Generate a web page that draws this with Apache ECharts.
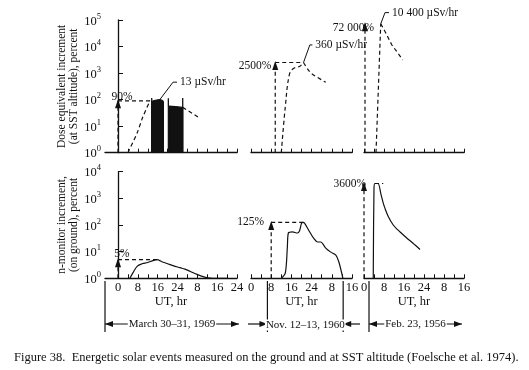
<!DOCTYPE html>
<html><head><meta charset="utf-8">
<script src="https://cdn.jsdelivr.net/npm/echarts@6/dist/echarts.min.js"></script>
<style>html,body{margin:0;padding:0;background:#fff}#c{width:529px;height:370px}</style>
</head><body><div id="c"></div>
<script>
// ---------------- data ----------------
const hourTicksMar = [0,4,8,12,16,20,24,28,32,36,40,44,48];
const hourLabelsMar = [0,8,16,24,32,40,48];
const hourTicks = [0,4,8,12,16,20,24,28,32,36,40];
const hourLabels = [0,8,16,24,32,40];
const doseDecades = [1,10,100,1000,10000,100000];
const nmDecades = [1,10,100,1000,10000];
const eventNames = ['March 30\u201331, 1969', 'Nov. 12\u201313, 1960', 'Feb. 23, 1956'];
const caption = 'Figure 38.  Energetic solar events measured on the ground and at SST altitude (Foelsche et al. 1974).';

// March 30-31, 1969 : dose at SST altitude (percent)
const marDoseArrow = [[0,1],[0,90]];
const marDoseLevel = [[0,90],[12.9,90]];
const marDoseRise = [[4,1],[7.7,5.5],[10,22],[12.9,90]];
const marDoseBlock1 = [[13.6,1],[13.6,83],[15.2,95],[16.9,101],[18.3,84],[18.3,1]];
const marDoseBlock2 = [[20.3,1],[20.3,57],[23.2,55],[26.1,51],[26.1,1]];
const marDoseEdge1 = [[13.6,1],[13.6,115]];
const marDoseEdge2 = [[20.3,57],[20.3,112]];
const marDoseEdge3 = [[26.1,1],[26.1,115]];
const marDoseTail = [[26.1,51],[33,20]];
const marDoseLeader = [[16.9,101],[22.2,455],[23.8,455]];
// March 30-31, 1969 : neutron monitor (percent)
const marNmArrow = [[0,1],[0,5]];
const marNmLevel = [[0,5],[17,5]];
const marNm = [[4.8,1],[6,1.6],[7.7,2.8],[9.7,3.5],[12,3.9],[14,4.6],[15.7,5],[17.7,4.2],[19.8,3.6],[22.2,3.0],[25,2.5],[27,2.2],[29,1.85],[31.9,1.4],[34.3,1.15],[36.3,1.05],[40,1],[44,1]];

// Nov. 12-13, 1960
const novDoseArrow = [[9.6,1],[9.6,2500]];
const novDoseLevel = [[9.6,2500],[20.8,2500]];
const novDoseRise = [[12,1],[13.6,56],[15.2,890],[16.8,1490],[19.2,1780],[20.8,2500]];
const novDoseTail = [[20.8,2500],[22.9,1230],[24.3,910],[29.6,450]];
const novDoseLeader = [[20.8,2500],[23.3,11500],[24.3,11500]];
const novNmArrow = [[8,1],[8,125]];
const novNmLevel = [[8,125],[21,125]];
const novNm = [[12,1],[13.6,1.6],[14.4,15],[14.8,50],[16.4,55],[18.4,50],[19.2,60],[20,115],[20.6,125],[21.2,118],[22.8,65],[24.8,32],[26.4,23],[27.6,23],[29.6,13.6],[31.6,9.6],[33.6,7.4],[34.8,4.1],[36.4,1]];

// Feb. 23, 1956
const febDoseArrow = [[0.4,1],[0.4,72000]];
const febDoseExtrap = [[4.8,1],[6.7,72000]];
const febDose = [[6.7,72000],[7.4,72000],[8.4,37000],[11.1,11700],[15.5,3150]];
const febDoseLeader = [[6.7,72000],[8.4,190000],[10,190000]];
const febNmArrow = [[0,1],[0,3600]];
const febNmLevel = [[4.4,3600],[7.7,3600]];
const febNm = [[3.7,1],[4,2400],[4.4,3600],[5.6,3600],[6.8,1400],[7.7,660],[8.4,420],[9.7,210],[11.7,100],[13.2,70],[15.1,48],[17.2,32],[19.5,21],[22.4,12]];

const peakLabels = ['90%','5%','2500%','125%','72 000%','3600%'];
const rateLabels = ['13 \u00b5Sv/hr','360 \u00b5Sv/hr','10 400 \u00b5Sv/hr'];

// ---------------- chart ----------------
const FONT = '"Liberation Serif","Times New Roman",serif';
const INK = '#111';
const DASH = [4,3];
const chart = echarts.init(document.getElementById('c'), null, {renderer:'canvas'});

const grids = [
  {left:105, top:20, width:132, height:132.7},
  {left:251, top:20, width:101, height:132.7},
  {left:364, top:20, width:100, height:132.7},
  {left:105, top:171.7, width:132, height:106.6},
  {left:251, top:171.7, width:101, height:106.6},
  {left:364, top:171.7, width:100, height:106.6}
].map(g => Object.assign({containLabel:false, outerBoundsMode:'none'}, g));

const xAxes = grids.map((g,i) => {
  const mar = i % 3 === 0;
  return {
    gridIndex:i, type:'value', min: mar ? -5.25 : 0, max: mar ? 48 : 40,
    axisLine:{show:true, onZero:false, lineStyle:{color:INK, width:1.3}},
    axisTick:{show:true, inside:true, length:4, lineStyle:{color:INK, width:1}, customValues: mar ? hourTicksMar : hourTicks},
    axisLabel:{show: i >= 3, customValues: mar ? hourLabelsMar : hourLabels, margin:3,
      formatter: v => String(v > 24 ? v - 24 : v), fontFamily:FONT, fontSize:12.5, color:INK},
    splitLine:{show:false},
    name: i >= 3 ? 'UT, hr' : '', nameLocation:'middle', nameGap:14,
    nameTextStyle:{fontFamily:FONT, fontSize:12.5, color:INK}
  };
});

const rich = {
  b:{fontFamily:FONT, fontSize:12.5, color:INK, lineHeight:16, verticalAlign:'bottom'},
  e:{fontFamily:FONT, fontSize:8.5, color:INK, lineHeight:16, verticalAlign:'top'}
};
const yAxes = grids.map((g,i) => {
  const top = i < 3;
  const base = {gridIndex:i, type:'log', logBase:10, min:1, max: top ? 100000 : 10000};
  if (i % 3 !== 0) return Object.assign(base, {show:false});
  return Object.assign(base, {
    axisLine:{show:true, lineStyle:{color:INK, width:1.3}},
    axisTick:{show:true, inside:true, length:5, lineStyle:{color:INK, width:1}, customValues: top ? doseDecades : nmDecades},
    axisLabel:{show:true, margin:4, customValues: top ? doseDecades : nmDecades,
      formatter: v => '{b|10}{e|' + Math.round(Math.log10(v)) + '}', rich},
    splitLine:{show:false},
    name: top ? 'Dose equivalent increment\n(at SST altitude), percent' : 'n-monitor increment,\n(on ground), percent',
    nameLocation:'middle', nameGap:19, nameRotate:90,
    nameTextStyle:{fontFamily:FONT, fontSize:11.5, lineHeight:12.5, color:INK}
  });
});

function ln(gi, data, o) {
  o = o || {};
  return {
    type:'line', xAxisIndex:gi, yAxisIndex:gi, data, symbol:'none', smooth:o.smooth || false,
    lineStyle:{color:INK, width:o.width || 1.2, type:o.dashed ? DASH : 'solid'},
    areaStyle:o.fill ? {color:INK, opacity:1, origin:'start'} : undefined,
    silent:true, animation:false, clip:false, z:o.z || 2
  };
}
function arrow(gi, data, label, lab) {
  const d = data.map((p,k) => k === data.length - 1 ? {
      value:p, symbol:'triangle', symbolSize:[6,9], symbolOffset:[0,3], itemStyle:{color:INK},
      label:Object.assign({show:true, formatter:label, fontFamily:FONT, fontSize:11.5, color:INK}, lab)
    } : {value:p, symbol:'none'});
  const s = ln(gi, d, {dashed:true});
  s.showSymbol = true; s.showAllSymbol = true;
  return s;
}
function leader(gi, data, text) {
  const s = ln(gi, data, {width:1});
  s.endLabel = {show:true, formatter:text, distance:3, fontFamily:FONT, fontSize:11.5, color:INK};
  return s;
}

const series = [
  // March dose
  arrow(0, marDoseArrow, peakLabels[0], {position:'top', distance:0, offset:[4,4]}),
  ln(0, marDoseLevel, {dashed:true}),
  ln(0, marDoseRise, {dashed:true, smooth:0.3}),
  ln(0, marDoseBlock1, {fill:true, smooth:0.2}),
  ln(0, marDoseBlock2, {fill:true}),
  ln(0, marDoseEdge1, {width:1.3}), ln(0, marDoseEdge2, {width:1.3}), ln(0, marDoseEdge3, {width:1.3}),
  ln(0, marDoseTail, {dashed:true}),
  leader(0, marDoseLeader, rateLabels[0]),
  // March neutron
  arrow(3, marNmArrow, peakLabels[1], {position:'top', distance:0, offset:[4,2]}),
  ln(3, marNmLevel, {dashed:true}),
  ln(3, marNm, {smooth:0.4}),
  // Nov dose
  arrow(1, novDoseArrow, peakLabels[2], {position:'left', distance:1, offset:[0,0]}),
  ln(1, novDoseLevel, {dashed:true}),
  ln(1, novDoseRise, {dashed:true, smooth:0.4}),
  ln(1, novDoseTail, {dashed:true, smooth:0.3}),
  leader(1, novDoseLeader, rateLabels[1]),
  // Nov neutron
  arrow(4, novNmArrow, peakLabels[3], {position:'left', distance:4, offset:[0,-3]}),
  ln(4, novNmLevel, {dashed:true}),
  ln(4, novNm, {smooth:0.3}),
  // Feb dose
  arrow(2, febDoseArrow, peakLabels[4], {position:'left', distance:-12, offset:[0,1]}),
  ln(2, febDoseExtrap, {dashed:true}),
  ln(2, febDose, {dashed:true}),
  leader(2, febDoseLeader, rateLabels[2]),
  // Feb neutron
  arrow(5, febNmArrow, peakLabels[5], {position:'left', distance:-5, offset:[0,-3]}),
  ln(5, febNmLevel, {dashed:true}),
  ln(5, febNm, {smooth:0.3})
];

chart.setOption({
  backgroundColor:'#fff', animation:false,
  grid:grids, xAxis:xAxes, yAxis:yAxes, series
});

// ---------- event brackets under the axes (positions taken from the hour axes) ----------
const px = (axis, hr) => chart.convertToPixel({xAxisIndex:axis}, hr);
const yTop = 281, yBot = 332, yArr = 324;
const xMarL = px(3,-5.25), xMarR = px(3,48.8);
const xNovL = px(4,6.5), xNovR = px(4,36.5), xNovIn = px(4,-1.2), xNovOut = px(5,-1.6);
const xFebL = px(5,2), xFebR = px(5,39.2);
const lineStyle = {stroke:INK, lineWidth:1.2};
function vline(x){ return {type:'line', shape:{x1:x,y1:yTop,x2:x,y2:yBot}, style:lineStyle, silent:true}; }
function hline(x1,x2){ return {type:'line', shape:{x1,y1:yArr,x2,y2:yArr}, style:lineStyle, silent:true}; }
function head(x, dir){ // dir: +1 points right, -1 points left
  return {type:'polygon', shape:{points:[[x,yArr],[x-dir*8,yArr-3],[x-dir*8,yArr+3]]}, style:{fill:INK}, silent:true};
}
function txt(x,y,text){ return {type:'text', x, y, silent:true, style:{text, x:0, y:0, align:'center', verticalAlign:'middle',
  font:'11px "Liberation Serif"', fill:INK, backgroundColor:'#fff', padding:[0,1]}}; }
const graphic = [
  vline(xMarL), vline(xNovL), vline(xNovR), vline(xFebL),
  hline(xMarL, xMarR), head(xMarL,-1), head(xMarR,1),
  txt((xMarL+xMarR)/2, yArr, eventNames[0]),
  hline(xNovIn, xNovL), head(xNovL,1),
  hline(xNovR, xNovOut), head(xNovR,-1),
  txt((xNovL+xNovR)/2, yArr+1, eventNames[1]),
  hline(xFebL, xFebR), head(xFebL,-1), head(xFebR,1),
  txt((xFebL+xFebR)/2, yArr, eventNames[2]),
  {type:'text', x:14, y:358, silent:true, style:{text:caption, x:0, y:0, verticalAlign:'middle', font:'12.5px "Liberation Serif"', fill:INK}}
];
chart.setOption({graphic});
</script></body></html>
